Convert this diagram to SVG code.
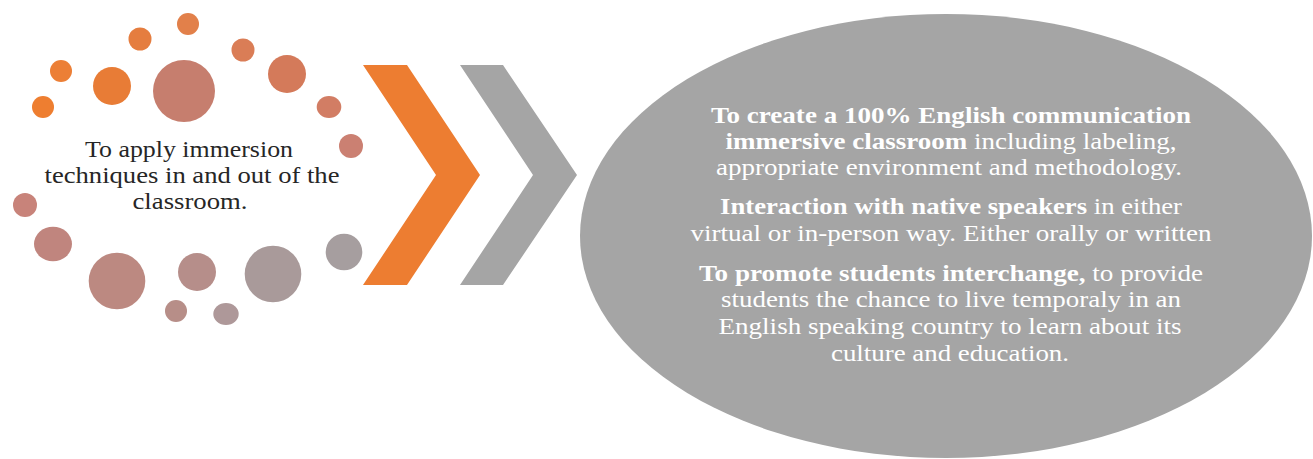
<svg xmlns="http://www.w3.org/2000/svg" width="1313" height="459" viewBox="0 0 1313 459">
<style>
.lt{font-family:"Liberation Serif","Times New Roman",serif;font-size:23px;fill:#262626;text-anchor:middle}
.et{font-family:"Liberation Serif","Times New Roman",serif;font-size:23px;fill:#FFFFFF;text-anchor:middle}
.b{font-weight:bold}
</style>
<rect width="1313" height="459" fill="#FFFFFF"/>
<g id="source-node">
<g id="dots">
<circle cx="188" cy="24" r="11" fill="#E2804A"/>
<circle cx="140" cy="39" r="11.5" fill="#E57D3F"/>
<circle cx="243" cy="50" r="11.5" fill="#DA7D56"/>
<circle cx="61" cy="71" r="11" fill="#EC7F36"/>
<circle cx="112" cy="86" r="19" fill="#E87C36"/>
<circle cx="184" cy="91" r="31" fill="#C67E6E"/>
<circle cx="287" cy="74" r="19" fill="#D47A5A"/>
<circle cx="43" cy="107" r="11" fill="#EE7E30"/>
<ellipse cx="329" cy="107" rx="12.3" ry="11" fill="#D27D64"/>
<circle cx="351" cy="146" r="12" fill="#CB8072"/>
<circle cx="25" cy="205" r="12" fill="#C8837A"/>
<ellipse cx="53" cy="244" rx="19" ry="17.3" fill="#C0857E"/>
<circle cx="117" cy="281" r="28.3" fill="#BC8981"/>
<circle cx="197" cy="272" r="19" fill="#B68E8A"/>
<circle cx="273" cy="274" r="28.3" fill="#A99A9A"/>
<circle cx="344" cy="252" r="18.3" fill="#A69E9F"/>
<circle cx="176" cy="311" r="11" fill="#B78E88"/>
<ellipse cx="226" cy="314" rx="12.7" ry="11" fill="#AE9899"/>
</g>
<text class="lt" x="189" y="157" textLength="208" lengthAdjust="spacingAndGlyphs">To apply immersion</text>
<text class="lt" x="192" y="183" textLength="295" lengthAdjust="spacingAndGlyphs">techniques in and out of the</text>
<text class="lt" x="190" y="209" textLength="115" lengthAdjust="spacingAndGlyphs">classroom.</text>
</g>
<g id="connectors">
<polygon id="chevron-orange" points="363,65 407,65 480,175 407,285 363,285 436,175" fill="#ED7D31"/>
<polygon id="chevron-gray" points="460,65 503,65 577,175 503,285 460,285 533,175" fill="#A5A5A5"/>
</g>
<g id="target-node">
<ellipse cx="946" cy="236" rx="366" ry="222" fill="#A5A5A5"/>
<text class="et" x="951" y="123" textLength="480" lengthAdjust="spacingAndGlyphs"><tspan class="b">To create a 100% English communication</tspan></text>
<text class="et" x="951" y="149" textLength="451" lengthAdjust="spacingAndGlyphs"><tspan class="b">immersive classroom</tspan> including labeling,</text>
<text class="et" x="949" y="175" textLength="466" lengthAdjust="spacingAndGlyphs">appropriate environment and methodology.</text>
<text class="et" x="951" y="214" textLength="462" lengthAdjust="spacingAndGlyphs"><tspan class="b">Interaction with native speakers</tspan> in either</text>
<text class="et" x="951" y="241" textLength="521" lengthAdjust="spacingAndGlyphs">virtual or in-person way. Either orally or written</text>
<text class="et" x="951" y="281" textLength="504" lengthAdjust="spacingAndGlyphs"><tspan class="b">To promote students interchange,</tspan> to provide</text>
<text class="et" x="951" y="307" textLength="460" lengthAdjust="spacingAndGlyphs">students the chance to live temporaly in an</text>
<text class="et" x="950" y="334" textLength="463" lengthAdjust="spacingAndGlyphs">English speaking country to learn about its</text>
<text class="et" x="950" y="361" textLength="238" lengthAdjust="spacingAndGlyphs">culture and education.</text>
</g>
</svg>
